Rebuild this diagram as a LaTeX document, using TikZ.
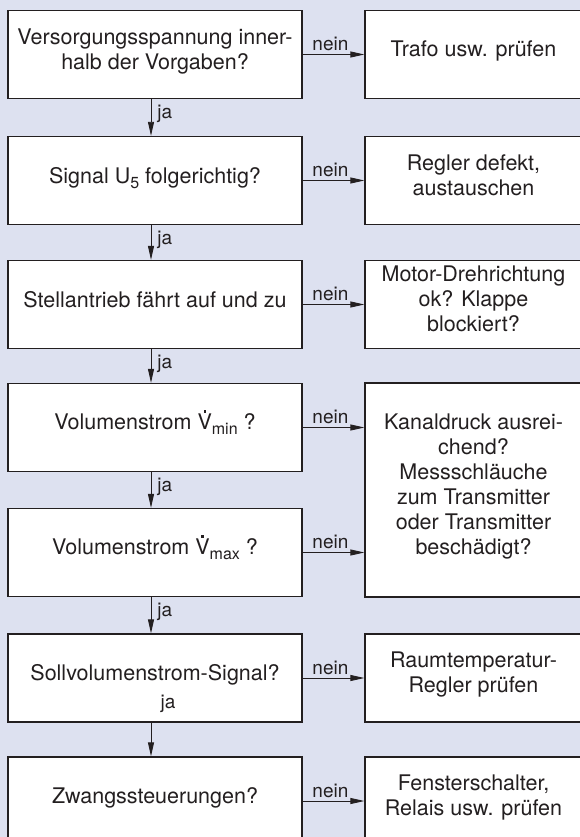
\documentclass[tikz,border=0pt]{standalone}
\usepackage{fontspec}
\setmainfont{TeX Gyre Heros}
\usetikzlibrary{arrows.meta}
\definecolor{bg}{RGB}{221,225,240}
\definecolor{ink}{RGB}{35,31,32}
\newcommand\Vd{\ooalign{V\cr\hidewidth\raisebox{0.8em}{\rule{2.4pt}{2.4pt}}\hidewidth\cr}}
\newcommand\subs[1]{\raisebox{-5pt}{\fontsize{16}{16}\selectfont #1}}
\newcommand\topstrut{\rule{0pt}{13pt}}
\newcommand\botstrut{\rule[-11pt]{0pt}{11pt}}
\begin{document}
\begin{tikzpicture}[x=1pt,y=-1pt,
  box/.style={draw=ink, line width=1.3pt, fill=white, rectangle, inner sep=0pt,
    minimum height=88pt, align=center, font=\fontsize{21.5}{25}\selectfont, text=ink,
    execute at begin node=\topstrut, execute at end node=\botstrut},
  lbox/.style={box, minimum width=294pt},
  rbox/.style={box, minimum width=217pt},
  arr/.style={draw=ink, line width=0.9pt, -{Triangle[length=14pt,width=6pt]}},
  lbl/.style={font=\fontsize{19}{19}\selectfont, text=ink, inner sep=0pt},
]
\clip (0,0) rectangle (580,837);
\fill[bg] (0,0) rectangle (580,837);

\node[lbox] (L1) at (155,54.5) {Versorgungsspannung inner-\\halb der Vorgaben?};
\node[rbox] (R1) at (473.5,54.5) {Trafo usw. prüfen};
\node[lbox] (L2) at (155,180.5) {Signal U\subs{5} folgerichtig?};
\node[rbox] (R2) at (473.5,180.5) {Regler defekt,\\austauschen};
\node[lbox] (L3) at (155,304.5) {Stellantrieb fährt auf und zu};
\node[rbox] (R3) at (473.5,304.5) {Motor-Drehrichtung\\ok? Klappe\\blockiert?};
\node[lbox] (L4) at (155,427.5) {Volumenstrom \Vd\subs{min} ?};
\node[lbox] (L5) at (155,552.5) {Volumenstrom \Vd\subs{max} ?};
\node[rbox, minimum height=214pt] (R45) at (473.5,490) {Kanaldruck ausrei-\\chend?\\Messschläuche\\zum Transmitter\\oder Transmitter\\beschädigt?};
\node[lbox] (L6) at (155,678) {Sollvolumenstrom-Signal?};
\node[rbox] (R6) at (473.5,678) {Raumtemperatur-\\Regler prüfen};
\node[lbl, anchor=base] (ja6) at (168,708) {ja};
\node[lbox] (L7) at (155,801) {Zwangssteuerungen?};
\node[rbox] (R7) at (473.5,801) {Fensterschalter,\\Relais usw. prüfen};

\foreach \a/\b in {L1/L2,L2/L3,L3/L4,L4/L5,L5/L6}{
  \draw[arr] ([xshift=-4pt]\a.south) -- node[lbl, pos=0, anchor=north west, xshift=6pt, yshift=-5pt] {ja} ([xshift=-4pt]\b.north);
}
\draw[arr] ([xshift=-4pt]L6.south) -- ([xshift=-4pt]L7.north);

\foreach \a/\b in {L1/R1,L2/R2,L3/R3,L6/R6,L7/R7}{
  \draw[arr] (\a) -- node[lbl, pos=0.45, above=3pt] {nein} (\b);
}
\draw[arr] (L4.east) -- node[lbl, pos=0.45, above=3pt] {nein} (L4.east -| R45.west);
\draw[arr] (L5.east) -- node[lbl, pos=0.45, above=3pt] {nein} (L5.east -| R45.west);
\end{tikzpicture}
\end{document}
